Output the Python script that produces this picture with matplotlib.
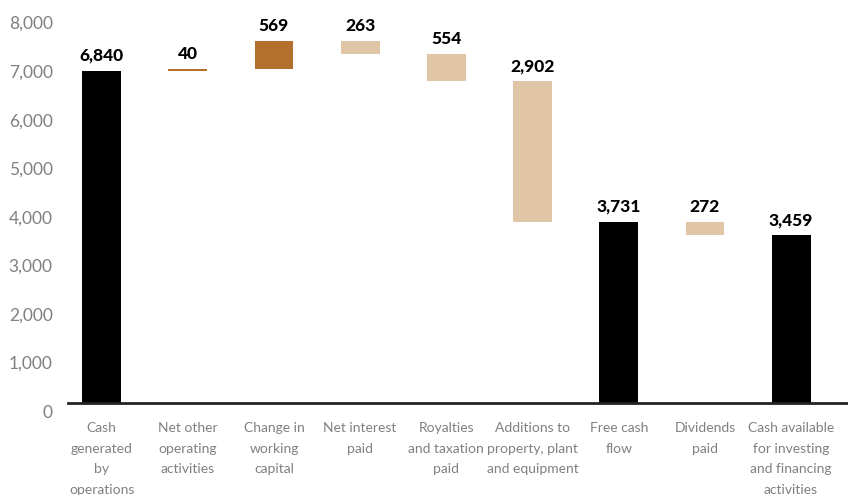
import matplotlib
matplotlib.use("Agg")
import matplotlib.pyplot as plt
from matplotlib.transforms import ScaledTranslation
import numpy as np

categories = ["Cash\ngenerated\nby\noperations", "Net other\noperating\nactivities",
              "Change in\nworking\ncapital", "Net interest\npaid",
              "Royalties\nand taxation\npaid", "Additions to\nproperty, plant\nand equipment",
              "Free cash\nflow", "Dividends\npaid",
              "Cash available\nfor investing\nand financing\nactivities"]
values = [6840, 40, 569, -263, -554, -2902, 3731, -272, 3459]
kinds = ["total", "delta", "delta", "delta", "delta", "delta", "total", "delta", "total"]
yticks = [0, 1000, 2000, 3000, 4000, 5000, 6000, 7000, 8000]

c_total = "#000000"
c_up = "#B36F2B"
c_down = "#E1C5A7"

fig = plt.figure(figsize=(8.48, 4.95), dpi=100)
ax = fig.add_axes([68/848, 92/495, 1 - 68/848, 403/495])

running = 0
x = np.arange(len(categories))
for i, (v, k) in enumerate(zip(values, kinds)):
    if k == "total":
        bottom, height, col = 0, v, c_total
        running = v
        top = v
    else:
        if v >= 0:
            bottom, height, col = running, v, c_up
            top = running + v
        else:
            bottom, height, col = running + v, -v, c_down
            top = running
        running += v
    ax.bar(x[i], height, bottom=bottom, width=0.45, color=col, linewidth=0)
    ax.annotate(f"{abs(v):,}", (x[i], top), xytext=(0, 5), textcoords="offset points",
                ha="center", va="bottom", fontsize=12.5, fontweight="black",
                family="Lato", color="black")

ax.set_xlim(-0.39, 8.66)
ax.set_ylim(0, 8300)
ax.set_yticks(yticks)
ax.set_yticklabels([f"{t:,}" for t in yticks], family="Lato", fontweight="normal",
                   fontsize=12.5, color="#808080")
ax.set_xticks(x)
ax.set_xticklabels(categories, family="Lato", fontweight="normal", fontsize=10,
                   color="#808080", linespacing=1.85)
ax.tick_params(axis="y", length=0, pad=11)
ax.tick_params(axis="x", length=0, pad=14)
for lab in ax.get_yticklabels():
    lab.set_transform(lab.get_transform() + ScaledTranslation(0, -8/100, fig.dpi_scale_trans))

for s in ["top", "right", "left"]:
    ax.spines[s].set_visible(False)
ax.spines["bottom"].set_linewidth(2)
ax.spines["bottom"].set_color("#222222")

fig.savefig("out.png", dpi=100)
